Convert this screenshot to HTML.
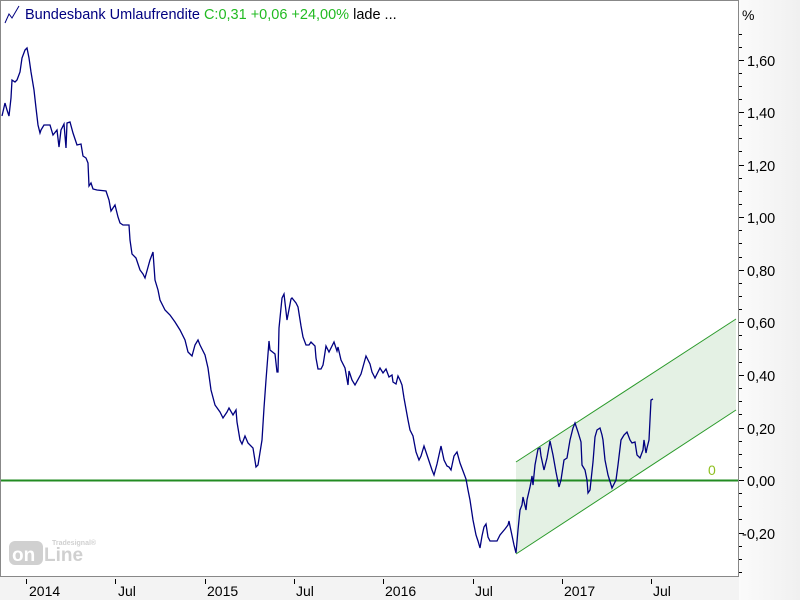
<!DOCTYPE html>
<html><head><meta charset="utf-8"><style>
html,body{margin:0;padding:0;background:#fff;}
svg text{font-family:"Liberation Sans",sans-serif;}
</style></head><body>
<svg width="800" height="600" xmlns="http://www.w3.org/2000/svg">
<defs><linearGradient id="g" x1="0" x2="1"><stop offset="0" stop-color="#fbfbfb"/><stop offset="1" stop-color="#f0f0f0"/></linearGradient></defs>
<rect x="0" y="0" width="800" height="600" fill="#fff"/>
<rect x="739" y="0" width="61" height="600" fill="url(#g)"/>
<rect x="0" y="577" width="739" height="23" fill="#f3f3f3"/>
<!-- border -->
<path d="M0.5 577 V0.5 H738.5 V576.5 H0.5" fill="none" stroke="#888" stroke-width="1"/>
<!-- logo -->
<g opacity="0.85">
<rect x="9" y="541" width="34" height="24" rx="6" fill="#c8c8c8"/>
<text x="12" y="561" font-size="19" font-weight="bold" fill="#fff">on</text>
<text x="44" y="561" font-size="19" font-weight="bold" fill="#c8c8c8">Line</text>
<text x="52" y="545" font-size="7" font-weight="bold" fill="#c8c8c8">Tradesignal®</text>
</g>
<!-- channel -->
<polygon points="516,462 736,319 736,410 516,554" fill="#e4f1e4"/>
<line x1="516" y1="462" x2="736" y2="319" stroke="#2a9a2a" stroke-width="1"/>
<line x1="516" y1="554" x2="736" y2="410" stroke="#2a9a2a" stroke-width="1"/>
<!-- zero line -->
<line x1="1" y1="480.5" x2="738" y2="480.5" stroke="#228b22" stroke-width="2"/>
<text x="708" y="475" font-size="14" fill="#8fbf20">0</text>
<!-- series -->
<polyline fill="none" stroke="#000080" stroke-width="1.3" points="2,116 5,103 7,110 9,116 11,98 12,80 15,82 17,80 20,72 22,58 25,50 27,48 29,58 31,72 34,90 36,108 38,125 40,133 41,130 44,125 50,125 53,135 57,130 59,147 61,130 64,124 66,148 67,123 70,122 73,133 77,145 81,144 83,156 86,158 88,163 89,186 91,183 93,189 97,190 106,191 109,200 111,211 115,205 118,217 120,223 123,225 129,225 130,240 132,254 136,258 140,270 143,274 145,278 150,260 153,252 155,280 158,290 160,300 165,310 170,315 175,322 180,330 185,340 188,352 192,356 195,345 198,340 200,345 205,355 208,368 211,390 215,405 220,412 223,418 227,412 229,408 233,415 236,410 237,422 240,440 242,444 245,436 248,443 253,448 256,467 258,465 262,440 264,408 266,380 269,341 270,350 275,354 277,372 278,372 279,328 282,298 284,294 287,320 291,299 292,298 296,303 298,307 301,326 303,337 306,345 309,345 311,342 315,346 316,358 318,369 321,369 323,365 324,359 326,346 329,352 332,346 334,342 337,351 338,347 341,360 345,368 348,385 349,371 352,380 355,385 361,374 366,356 370,364 372,372 375,378 380,368 383,373 386,369 389,377 392,375 393,382 396,384 398,376 400,380 402,385 404,398 408,420 410,430 413,436 416,452 419,460 421,456 424,446 428,458 432,470 434,475 437,464 441,446 444,460 447,466 449,467 451,470 454,456 457,452 460,463 463,471 466,479 468,490 470,500 473,520 475,530 476,535 478,541 480,548 482,536 484,527 486,524 488,537 490,541 497,541 500,535 505,529 508,525 509,521 510,526 514,545 516,553 518,530 520,510 522,505 523,497 526,510 527,500 530,487 531,482 532,476 533,485 535,465 538,449 540,448 541,456 544,470 547,458 550,441 553,455 556,472 559,487 561,480 564,460 567,458 570,440 573,428 575,423 578,432 581,442 582,465 585,470 587,480 588,493 590,490 593,462 595,437 597,430 600,428 602,435 603,440 605,460 608,475 612,488 616,480 618,465 621,440 624,435 627,432 630,440 632,443 635,442 637,455 640,458 643,450 644,440 646,453 647,448 649,440 650,420 651,400 653,399"/>
<!-- header -->
<polyline points="5,23 9,14 12,18 19,6" fill="none" stroke="#000080" stroke-width="1"/>
<text x="25" y="19" font-size="14.5"><tspan fill="#000080">Bundesbank Umlaufrendite </tspan><tspan fill="#22bb22">C:0,31 +0,06 +24,00%</tspan><tspan fill="#000"> lade ...</tspan></text>
<!-- right axis -->
<text x="742" y="20" font-size="14" fill="#000">%</text>
<g stroke="#000" stroke-width="1">
<path d="M739 34.5h3M739 47.5h3M739 60.5h5M739 73.5h3M739 86.5h3M739 99.5h3M739 112.5h5M739 125.5h3M739 138.5h3M739 151.5h3M739 165.5h5M739 178.5h3M739 191.5h3M739 204.5h3M739 217.5h5M739 230.5h3M739 243.5h3M739 257.5h3M739 270.5h5M739 283.5h3M739 296.5h3M739 309.5h3M739 322.5h5M739 335.5h3M739 349.5h3M739 362.5h3M739 375.5h5M739 388.5h3M739 401.5h3M739 414.5h3M739 428.5h5M739 441.5h3M739 454.5h3M739 467.5h3M739 480.5h5M739 493.5h3M739 506.5h3M739 519.5h3M739 533.5h5M739 546.5h3M739 559.5h3M739 572.5h3"/>
</g>
<g font-size="14.5" fill="#000">
<text x="747" y="66">1,60</text>
<text x="747" y="118">1,40</text>
<text x="747" y="171">1,20</text>
<text x="747" y="223">1,00</text>
<text x="747" y="276">0,80</text>
<text x="747" y="328">0,60</text>
<text x="747" y="381">0,40</text>
<text x="747" y="434">0,20</text>
<text x="747" y="486">0,00</text>
<text x="742" y="539">-0,20</text>
</g>
<!-- x axis -->
<g stroke="#000" stroke-width="1">
<path d="M26.5 579v5M115.5 579v5M205.5 579v5M294.5 579v5M383.5 579v5M473.5 579v5M562.5 579v5M651.5 579v5"/>
</g>
<g font-size="14" fill="#000">
<text x="29" y="596">2014</text>
<text x="118" y="596">Jul</text>
<text x="207" y="596">2015</text>
<text x="296" y="596">Jul</text>
<text x="385" y="596">2016</text>
<text x="475" y="596">Jul</text>
<text x="564" y="596">2017</text>
<text x="653" y="596">Jul</text>
</g>
</svg>
</body></html>
